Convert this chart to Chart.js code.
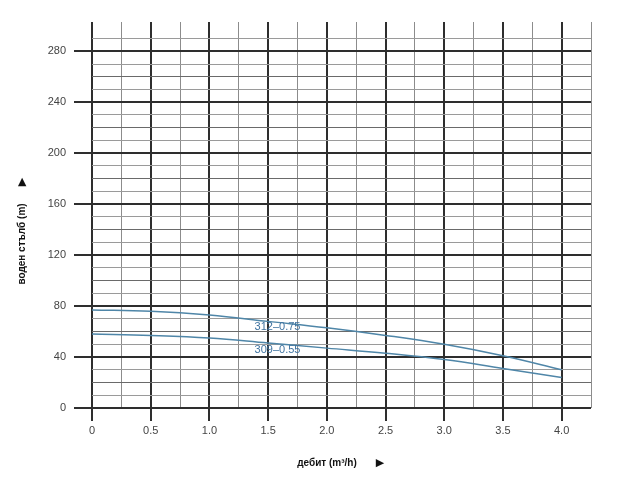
<!DOCTYPE html>
<html>
<head>
<meta charset="utf-8">
<script src="https://cdn.jsdelivr.net/npm/chart.js@4.4.1/dist/chart.umd.min.js"></script>
<style>
  html, body { margin: 0; padding: 0; background: #fff; }
  #wrap { width: 640px; height: 480px; }
</style>
</head>
<body>
<div id="wrap"><canvas id="js_pumpChart" width="640" height="480"></canvas></div>
<script>
// flow rate (m3/h)
const flow = [0, 0.5, 1.0, 1.5, 2.0, 2.5, 3.0, 3.5, 4.0];
// head (m) per pump model
const head312 = [77, 76, 73, 68, 63, 57, 50, 41, 30];
const head309 = [58, 57, 55, 51, 47, 43, 38, 31, 24];
const seriesNames = ['312–0.75', '309–0.55'];

const lineColor = '#4f86a8';

const toPoints = (ys) => flow.map((x, i) => ({ x, y: ys[i] }));

const labelsPlugin = {
  id: 'labelsPlugin',
  afterDraw(chart) {
    const { ctx, scales: { x, y }, chartArea } = chart;
    ctx.save();
    // curve names
    ctx.font = '11px "Liberation Sans", Arial, sans-serif';
    ctx.fillStyle = '#3f73a0';
    ctx.textAlign = 'center';
    ctx.textBaseline = 'middle';
    ctx.fillText(seriesNames[0], x.getPixelForValue(1.58), y.getPixelForValue(63.5));
    ctx.fillText(seriesNames[1], x.getPixelForValue(1.58), y.getPixelForValue(45.5));

    // axis titles with arrows
    ctx.fillStyle = '#111';
    ctx.font = 'bold 10px "Liberation Sans", Arial, sans-serif';
    ctx.fillText('дебит (m³/h)', 327, 463);
    ctx.font = '11px "DejaVu Sans", sans-serif';
    ctx.fillText('▶', 380, 463);

    ctx.translate(22, 244);
    ctx.rotate(-Math.PI / 2);
    ctx.font = 'bold 10px "Liberation Sans", Arial, sans-serif';
    ctx.fillText('воден стълб (m)', 0, 0);
    ctx.font = '11px "DejaVu Sans", sans-serif';
    ctx.fillText('▶', 62, 0);
    ctx.restore();
  },
};

const isMult = (v, m) => Math.abs(v / m - Math.round(v / m)) < 1e-6;

document.addEventListener('DOMContentLoaded', () => {
  const ctx = document.getElementById('js_pumpChart');

  new Chart(ctx, {
    type: 'line',
    data: {
      datasets: [
        { label: seriesNames[0], data: toPoints(head312), borderColor: lineColor, borderWidth: 1.5, pointRadius: 0, tension: 0.4, fill: false },
        { label: seriesNames[1], data: toPoints(head309), borderColor: lineColor, borderWidth: 1.5, pointRadius: 0, tension: 0.4, fill: false },
      ],
    },
    options: {
      responsive: false,
      animation: false,
      layout: { padding: { top: 22, right: 49, left: 0, bottom: 0 } },
      plugins: { legend: { display: false }, tooltip: { enabled: false } },
      scales: {
        x: {
          type: 'linear',
          min: 0,
          max: 4.25,
          afterFit: (scale) => { scale.height = 72; },
          border: { display: false },
          grid: {
            drawTicks: true,
            tickLength: 13,
            color: (c) => (isMult(c.tick.value, 0.5) ? '#2e2e2e' : '#8c8c8c'),
            lineWidth: (c) => (isMult(c.tick.value, 0.5) ? 2 : 1),
            tickColor: (c) => (isMult(c.tick.value, 0.5) && c.tick.value <= 4 ? '#2e2e2e' : 'rgba(0,0,0,0)'),
            tickWidth: 2,
          },
          ticks: {
            stepSize: 0.25,
            autoSkip: false,
            maxRotation: 0,
            padding: 3,
            color: '#444',
            font: { family: '"Liberation Sans", Arial, sans-serif', size: 11 },
            callback: (v) => {
              if (!isMult(v, 0.5) || v > 4) return '';
              return v === 0 ? '0' : v.toFixed(1);
            },
          },
        },
        y: {
          min: 0,
          max: 303,
          afterFit: (scale) => { scale.width = 92; },
          border: { display: false },
          grid: {
            drawTicks: true,
            tickLength: 18,
            color: (c) => {
              const v = c.tick.value;
              if (!isMult(v, 10)) return 'rgba(0,0,0,0)';
              if (isMult(v, 40)) return '#2e2e2e';
              if (isMult(v, 20)) return '#6a6a6a';
              return '#9a9a9a';
            },
            lineWidth: (c) => (isMult(c.tick.value, 40) ? 2 : 1),
            tickColor: (c) => (isMult(c.tick.value, 40) ? '#2e2e2e' : 'rgba(0,0,0,0)'),
            tickWidth: 2,
          },
          ticks: {
            stepSize: 10,
            autoSkip: false,
            padding: 8,
            color: '#444',
            font: { family: '"Liberation Sans", Arial, sans-serif', size: 11 },
            callback: (v) => (isMult(v, 40) ? String(v) : ''),
          },
        },
      },
    },
    plugins: [labelsPlugin],
  });
});
</script>
</body>
</html>
